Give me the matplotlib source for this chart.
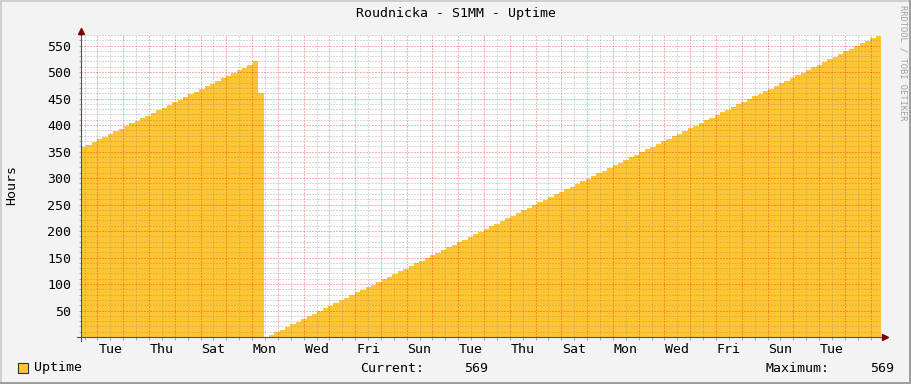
import numpy as np
import matplotlib
matplotlib.use('Agg')
import matplotlib.pyplot as plt
from matplotlib.lines import Line2D
from matplotlib.patches import Rectangle

# --- data (uptime in hours, one sample every 5 h) ---
sample_hours = 5
uptime = [
    358, 363, 368, 373, 378, 383, 388, 393, 398, 403,
    408, 413, 418, 423, 428, 433, 438, 443, 448, 453,
    458, 463, 468, 473, 478, 483, 488, 493, 498, 503,
    508, 513, 520,
    460, 0,
    4, 9, 14, 19, 24, 29, 34, 39, 44, 49,
    54, 59, 64, 69, 74, 79, 84, 89, 94, 99,
    104, 109, 114, 119, 124, 129, 134, 139, 144, 149,
    154, 159, 164, 169, 174, 179, 184, 189, 194, 199,
    204, 209, 214, 219, 224, 229, 234, 239, 244, 249,
    254, 259, 264, 269, 274, 279, 284, 289, 294, 299,
    304, 309, 314, 319, 324, 329, 334, 339, 344, 349,
    354, 359, 364, 369, 374, 379, 384, 389, 394, 399,
    404, 409, 414, 419, 424, 429, 434, 439, 444, 449,
    454, 459, 464, 469, 474, 479, 484, 489, 494, 499,
    504, 509, 514, 519, 524, 529, 534, 539, 544, 549,
    554, 559, 564, 569,
]
span_hours = 744           # 31 day graph
first_midnight = 15.3      # graph starts Monday ~08:42
day_labels = ['Tue', 'Thu', 'Sat', 'Mon', 'Wed', 'Fri', 'Sun', 'Tue',
              'Thu', 'Sat', 'Mon', 'Wed', 'Fri', 'Sun', 'Tue']
y_major = [50, 100, 150, 200, 250, 300, 350, 400, 450, 500, 550]
current_val = 569
maximum_val = 569

title = 'Roudnicka - S1MM - Uptime'
ylabel = 'Hours'
series_name = 'Uptime'

area_color = '#FFC533'
bg = '#F3F3F3'
font = 'DejaVu Sans Mono'
fs = 9.5

W, H = 911, 384


def fx(px):
    return px / W


def fy(py):
    return 1 - py / H


fig = plt.figure(figsize=(W / 100, H / 100), dpi=100, facecolor=bg)
ax = fig.add_axes([fx(81), fy(337), fx(880) - fx(81), fy(35) - fy(337)])
ax.set_facecolor('white')

t = np.arange(len(uptime) + 1) * sample_hours
v = np.append(uptime, uptime[-1])
ax.fill_between(t, v, step='post', color=area_color, linewidth=0, zorder=2)

ax.set_xlim(0, span_hours)
ax.set_ylim(0, 570)

# grid (rrdtool style: 1px dotted, semi transparent, on top of the area)
gray = (0.5, 0.5, 0.5, 0.3)
red = (1.0, 0.0, 0.0, 0.3)
dash = (0, (1.4, 1.4))
for h in np.arange(first_midnight - 12, span_hours, 12):
    k = (h - first_midnight) / 24
    is_major = abs(k - round(k)) < 1e-6
    ax.axvline(h, color=red if is_major else gray, lw=0.72, ls=dash, zorder=3,
               antialiased=False)
for y in range(10, 571, 10):
    ax.axhline(y, color=red if y % 50 == 0 else gray, lw=0.72, ls=dash, zorder=3,
               antialiased=False)

for s in ax.spines.values():
    s.set_visible(False)

# ticks
label_pos = [first_midnight + 12 + 48 * i for i in range(len(day_labels))]
ax.set_xticks(label_pos)
ax.set_xticklabels(day_labels, fontfamily=font, fontsize=fs)
ax.set_xticks(np.arange(first_midnight - 12, span_hours, 12), minor=True)
ax.xaxis.remove_overlapping_locs = False
ax.tick_params(axis='x', which='major', length=0, pad=4)
ax.tick_params(axis='x', which='minor', length=2, width=0.6, color='#A0A0A0')
ax.set_yticks(y_major)
ax.set_yticklabels([str(y) for y in y_major], fontfamily=font, fontsize=fs)
ax.set_yticks(range(10, 571, 10), minor=True)
ax.tick_params(axis='y', which='both', length=1.5, width=0.6, color='#A0A0A0', pad=5.5)

# axis lines and arrows
axis_col = '#505050'
fig.add_artist(Line2D([fx(77), fx(884)], [fy(337), fy(337)], transform=fig.transFigure,
                      color=axis_col, lw=0.8))
fig.add_artist(Line2D([fx(81), fx(81)], [fy(341), fy(32)], transform=fig.transFigure,
                      color=axis_col, lw=0.8))
fig.add_artist(Line2D([fx(81)], [fy(31)], transform=fig.transFigure, marker='^',
                      markersize=4.5, color='#800000', lw=0))
fig.add_artist(Line2D([fx(885)], [fy(337)], transform=fig.transFigure, marker='>',
                      markersize=4.5, color='#800000', lw=0))

# texts
fig.text(0.5, fy(14), title, ha='center', va='center', fontfamily=font, fontsize=fs)
fig.text(fx(12), fy(185), ylabel, ha='center', va='center', rotation=90,
         fontfamily=font, fontsize=fs)
fig.text(fx(903), fy(5), 'RRDTOOL / TOBI OETIKER', ha='center', va='top', rotation=270,
         fontfamily=font, fontsize=6.3, color='#A0A0A0')

# legend
fig.add_artist(Rectangle((fx(17.5), fy(372.5)), fx(10), fy(363) - fy(372.5),
                         transform=fig.transFigure, facecolor=area_color,
                         edgecolor='#333333', lw=0.8))
fig.text(fx(34), fy(368), series_name, ha='left', va='center', fontfamily=font, fontsize=fs)
fig.text(fx(360), fy(368), 'Current:', ha='left', va='center', fontfamily=font, fontsize=fs)
fig.text(fx(488), fy(368), str(current_val), ha='right', va='center', fontfamily=font, fontsize=fs)
fig.text(fx(765), fy(368), 'Maximum:', ha='left', va='center', fontfamily=font, fontsize=fs)
fig.text(fx(894), fy(368), str(maximum_val), ha='right', va='center', fontfamily=font, fontsize=fs)

# 3d frame
fig.add_artist(Rectangle((0, fy(2)), 1, 2 / H, transform=fig.transFigure, color='#CFCFCF', lw=0))
fig.add_artist(Rectangle((0, 0), 2 / W, 1, transform=fig.transFigure, color='#CFCFCF', lw=0))
fig.add_artist(Rectangle((0, 0), 1, 2 / H, transform=fig.transFigure, color='#9E9E9E', lw=0))
fig.add_artist(Rectangle((1 - 2 / W, 0), 2 / W, 1, transform=fig.transFigure, color='#9E9E9E', lw=0))

fig.savefig('out.png', dpi=100, facecolor=bg)
